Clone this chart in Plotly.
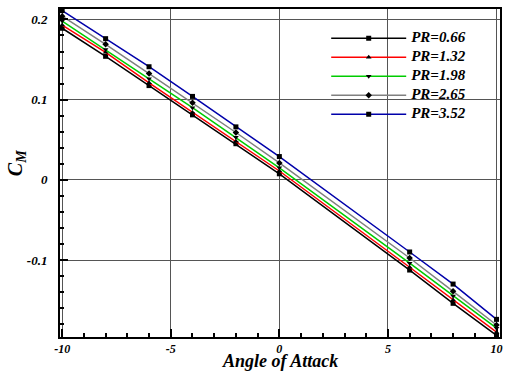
import plotly.graph_objects as go

angles = [-10, -8, -6, -4, -2, 0, 6, 8, 10]
pr_labels = ["PR=0.66", "PR=1.32", "PR=1.98", "PR=2.65", "PR=3.52"]
cm_066 = [0.189, 0.154, 0.1175, 0.081, 0.045, 0.0075, -0.1125, -0.154, -0.194]
cm_132 = [0.193, 0.159, 0.121, 0.084, 0.048, 0.011, -0.109, -0.150, -0.190]
cm_198 = [0.198, 0.1625, 0.126, 0.090, 0.053, 0.015, -0.104, -0.145, -0.185]
cm_265 = [0.204, 0.169, 0.1325, 0.096, 0.059, 0.021, -0.0975, -0.139, -0.181]
cm_352 = [0.211, 0.176, 0.141, 0.104, 0.066, 0.029, -0.090, -0.130, -0.174]
x_ticks = [-10, -5, 0, 5, 10]
y_ticks = [-0.1, 0, 0.1, 0.2]
y_tick_text = ["-0.1", "0", "0.1", "0.2"]

series = [cm_066, cm_132, cm_198, cm_265, cm_352]
colors = ["#000000", "#ff0000", "#00cc00", "#808080", "#0000aa"]
symbols = ["square", "triangle-up", "triangle-down", "diamond", "square"]

fig = go.Figure()
for lab, ys, c, s in zip(pr_labels, series, colors, symbols):
    fig.add_trace(go.Scatter(
        x=angles, y=ys, name='<span style="font-size:15px"><b><i>%s</i></b></span>' % lab,
        mode="lines+markers",
        line=dict(color=c, width=1.5),
        marker=dict(symbol=s, size=5, color="black"),
    ))

tickfont = dict(family="Liberation Serif", size=12, color="black")
bi = lambda t: "<b><i>%s</i></b>" % t
fig.update_layout(
    width=505, height=371,
    margin=dict(l=60, r=5, t=9, b=34),
    paper_bgcolor="white", plot_bgcolor="white",
    font=dict(family="Liberation Serif", color="black"),
    legend=dict(
        x=0.605, y=0.955, xanchor="left", yanchor="top",
        bgcolor="rgba(0,0,0,0)", itemwidth=75,
        font=dict(family="Liberation Serif", size=10, color="black"),
        tracegroupgap=0,
    ),
    xaxis=dict(
        range=[-10.1, 10.16], tickvals=x_ticks,
        ticktext=[bi(v) for v in x_ticks],
        ticks="inside", ticklen=8, tickwidth=2, tickcolor="black",
        minor=dict(ticks="inside", ticklen=4, dtick=1, tick0=0, tickcolor="black", showgrid=False),
        showgrid=True, gridcolor="#555555", gridwidth=1,
        showline=True, linecolor="black", linewidth=2, mirror=True,
        zeroline=False, tickfont=tickfont, automargin=False,
    ),
    yaxis=dict(
        range=[-0.196, 0.213], tickvals=y_ticks,
        ticktext=[bi(v) for v in y_tick_text],
        ticks="inside", ticklen=8, tickwidth=2, tickcolor="black",
        minor=dict(ticks="inside", ticklen=4, dtick=0.02, tick0=0, tickcolor="black", showgrid=False),
        showgrid=True, gridcolor="#555555", gridwidth=1,
        showline=True, linecolor="black", linewidth=2, mirror=True,
        zeroline=False, tickfont=dict(family="Liberation Serif", size=13, color="black"),
        ticklabelstandoff=8, automargin=False,
    ),
)
fig.add_annotation(
    text=bi("C<sub>M</sub>"), textangle=-90,
    xref="paper", yref="paper", x=-0.1, y=0.53, xanchor="center", showarrow=False,
    font=dict(family="Liberation Serif", size=20, color="black"),
)
fig.add_annotation(
    text=bi("Angle of Attack"),
    xref="paper", yref="paper", x=0.5, y=-0.073, xanchor="center", yanchor="middle",
    showarrow=False,
    font=dict(family="Liberation Serif", size=18, color="black"),
)
fig.write_html("out.html", config={"displayModeBar": False},
               post_script="document.body.style.margin='0';")
